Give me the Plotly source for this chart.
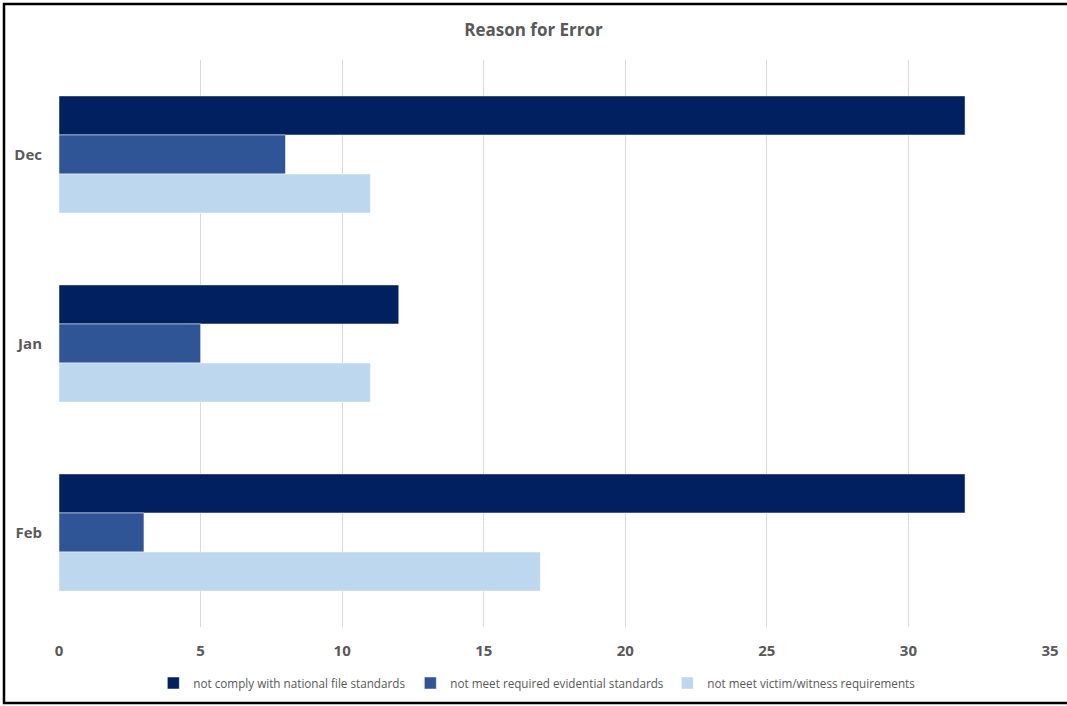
import plotly.graph_objects as go

months = ["Dec", "Jan", "Feb"]
series_names = [
    "not comply with national file standards",
    "not meet required evidential standards",
    "not meet victim/witness requirements",
]
national_file = [32, 12, 32]
evidential = [8, 5, 3]
victim_witness = [11, 11, 17]

colors = ["#002060", "#2F5597", "#BDD7EE"]
grey = "#595959"

fig = go.Figure()
for name, vals, col in zip(series_names, [national_file, evidential, victim_witness], colors):
    fig.add_trace(go.Bar(
        y=months, x=vals, name=name, orientation="h",
        marker=dict(color=col, line=dict(color="white", width=0.5)),
    ))

fig.update_layout(
    width=1067, height=706,
    barmode="group",
    bargap=0.38, bargroupgap=0,
    plot_bgcolor="white", paper_bgcolor="white",
    margin=dict(l=59, r=17, t=60, b=79),
    title=dict(text="<b>Reason for Error</b>", x=0.5, xref="container", y=0.9575, yanchor="middle",
               font=dict(family="Open Sans", size=17, color=grey)),
    legend=dict(orientation="h", x=0.505, xref="container", xanchor="center",
                y=0.0326, yref="container", yanchor="middle",
                font=dict(family="Open Sans", size=11.7, color=grey),
                entrywidth=212, itemwidth=30),
    showlegend=True,
)
fig.update_xaxes(range=[0, 35], dtick=5, showgrid=True, gridcolor="#D9D9D9", gridwidth=1,
                 zeroline=False, showline=False, ticks="", automargin=False,
                 tickfont=dict(family="Open Sans", size=15, color=grey),
                 tickprefix="<b>", ticksuffix="</b>", ticklabelstandoff=13)
fig.update_yaxes(autorange="reversed", showgrid=False, showline=False, ticks="", automargin=False,
                 tickfont=dict(family="Open Sans", size=15, color=grey),
                 tickprefix="<b>", ticksuffix="</b>", ticklabelstandoff=16)

# outer frame of the chart
fig.add_shape(type="rect", xref="paper", yref="paper",
              x0=-0.0555, x1=1.03, y0=-0.134, y1=1.0988,
              line=dict(color="black", width=2.5), layer="above")

# drop the browser's default 8px body margin so the figure fills the window
fig.write_html("out.html", config={"displayModeBar": False},
               post_script="document.body.style.margin='0';")
